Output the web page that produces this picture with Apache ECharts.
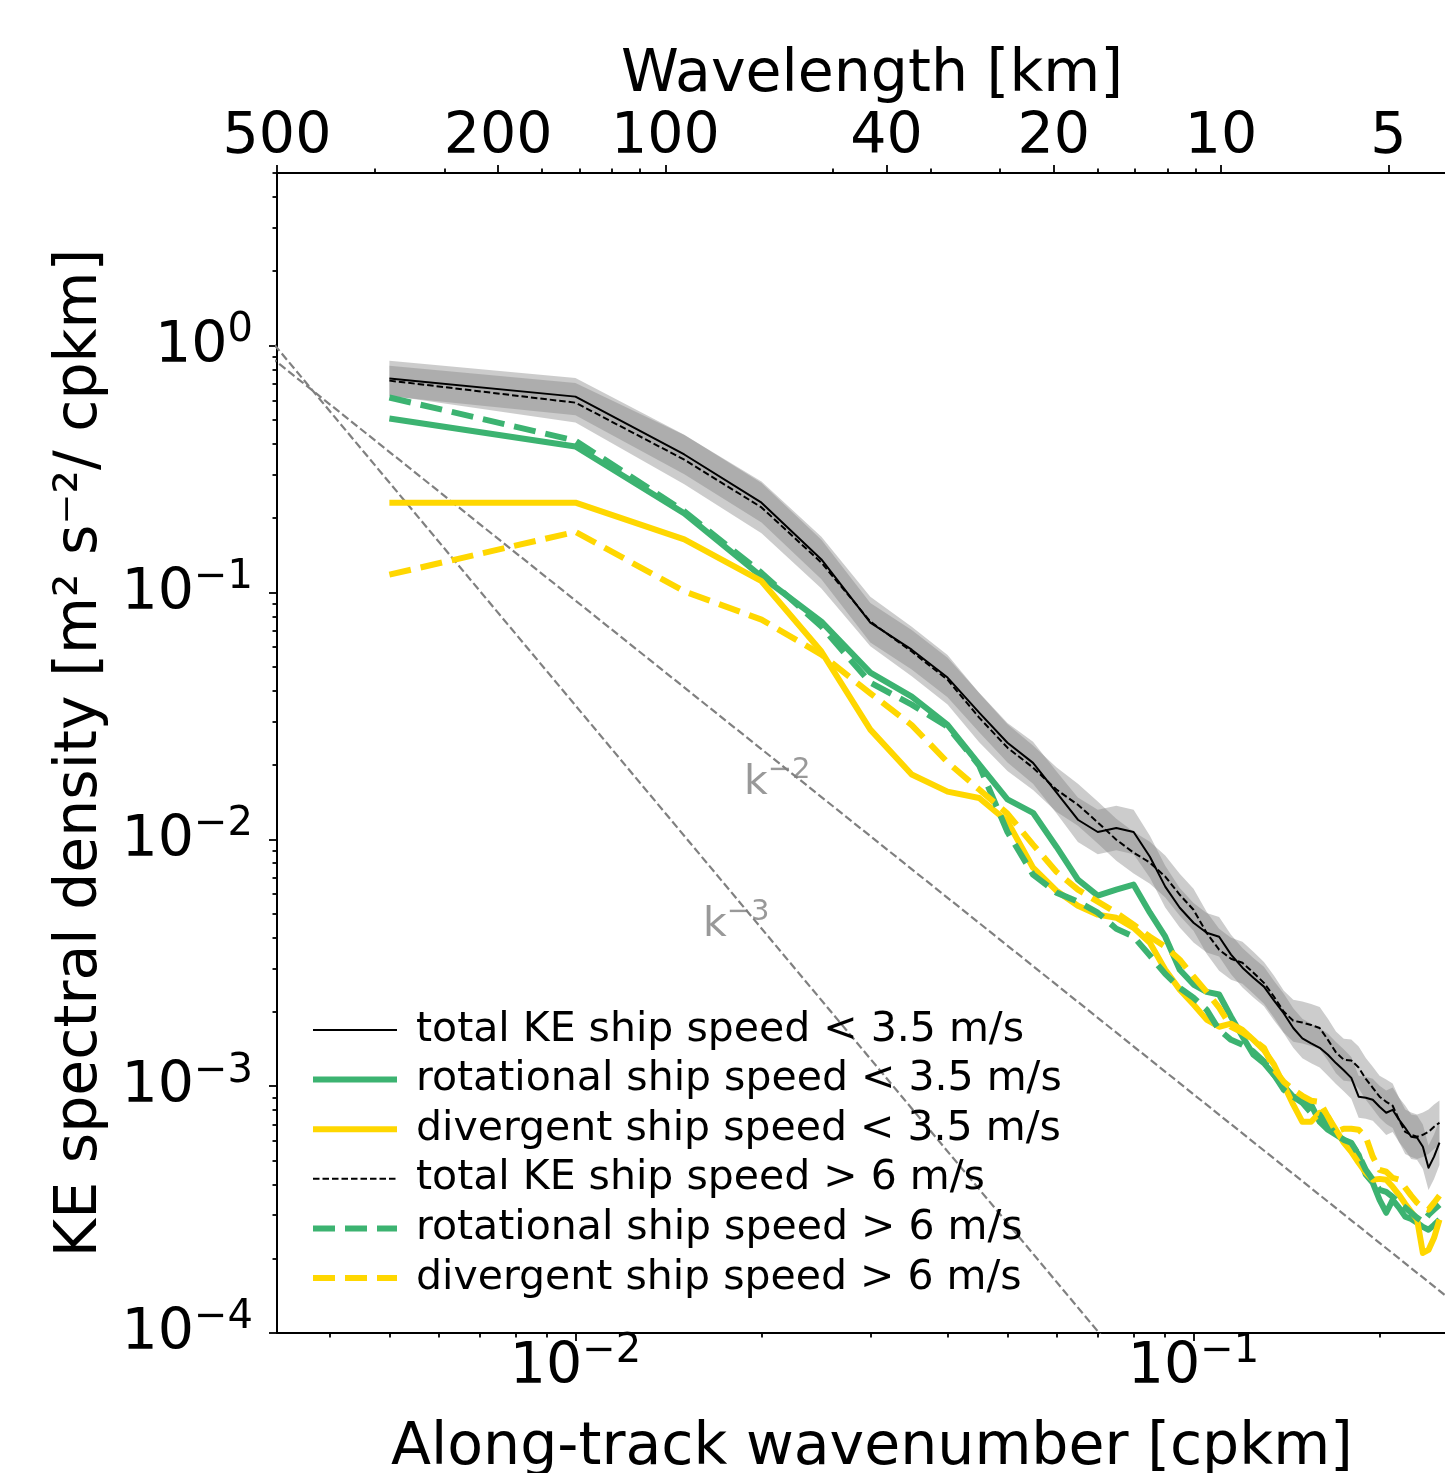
<!DOCTYPE html>
<html lang="en">
<head>
<meta charset="UTF-8">
<title>KE spectra</title>
<script src="https://cdn.jsdelivr.net/npm/echarts@6/dist/echarts.min.js"></script>
<style>
  html, body { margin: 0; padding: 0; background: #fff; }
  #main { width: 1445px; height: 1473px; }
</style>
</head>
<body>
<div id="main"></div>
<script>
// along-track wavenumber [cpkm]
var wavenumber = [0.005, 0.010, 0.015, 0.020, 0.025, 0.030, 0.035, 0.040, 0.045, 0.050,
                  0.055, 0.060, 0.065, 0.070, 0.075, 0.080, 0.085, 0.090, 0.095, 0.100,
                  0.105, 0.110, 0.115, 0.120, 0.125, 0.130, 0.135, 0.140, 0.145, 0.150,
                  0.155, 0.160, 0.165, 0.170, 0.175, 0.180, 0.185, 0.190, 0.195, 0.200,
                  0.205, 0.210, 0.215, 0.220, 0.225, 0.230, 0.235, 0.240, 0.245, 0.250];

// ship speed < 3.5 m/s
var totalSlow = [0.735, 0.621, 0.362, 0.231, 0.136, 0.0754, 0.0586, 0.0452, 0.0326, 0.0246,
                 0.0204, 0.0155, 0.0120, 0.0107, 0.0111, 0.0107, 0.00850, 0.00643, 0.00528, 0.00459,
                 0.00418, 0.00403, 0.00341, 0.00302, 0.00275, 0.00253, 0.00222, 0.00197, 0.00172, 0.00156,
                 0.00149, 0.00143, 0.00134, 0.00124, 0.00116, 0.00108, 0.000906, 0.000897, 0.000881, 0.000825,
                 0.000780, 0.000802, 0.000731, 0.000678, 0.000624, 0.000618, 0.000568, 0.000467, 0.000518, 0.000590];
var rotSlow = [0.506, 0.390, 0.209, 0.116, 0.0762, 0.0473, 0.0378, 0.0291, 0.0201, 0.0145,
               0.0128, 0.00933, 0.00686, 0.00591, 0.00625, 0.00655, 0.00504, 0.00403, 0.00296, 0.00258,
               0.00241, 0.00235, 0.00191, 0.00159, 0.00134, 0.00124, 0.00111, 0.00100, 0.000906, 0.000889,
               0.000841, 0.000717, 0.000666, 0.000635, 0.000606, 0.000584, 0.000527, 0.000438, 0.000406, 0.000346,
               0.000307, 0.000346, 0.000322, 0.000296, 0.000290, 0.000280, 0.000269, 0.000262, 0.000274, 0.000288];
var divSlow = [0.231, 0.231, 0.164, 0.111, 0.0576, 0.0278, 0.0183, 0.0156, 0.0147, 0.0118,
               0.00767, 0.00619, 0.00538, 0.00495, 0.00481, 0.00438, 0.00381, 0.00296, 0.00246, 0.00214,
               0.00186, 0.00174, 0.00179, 0.00169, 0.00154, 0.00140, 0.00122, 0.00101, 0.000841, 0.000717,
               0.000717, 0.000780, 0.000752, 0.000666, 0.000590, 0.000542, 0.000489, 0.000446, 0.000418, 0.000421,
               0.000418, 0.000391, 0.000363, 0.000334, 0.000310, 0.000288, 0.000211, 0.000217, 0.000243, 0.000288];

// ship speed > 6 m/s
var totalFast = [0.721, 0.587, 0.345, 0.221, 0.132, 0.0762, 0.0576, 0.0443, 0.0311, 0.0235,
                 0.0195, 0.0159, 0.0138, 0.0117, 0.00996, 0.00883, 0.00804, 0.00706, 0.00596, 0.00518,
                 0.00418, 0.00357, 0.00328, 0.00316, 0.00288, 0.00262, 0.00230, 0.00200, 0.00184, 0.00181,
                 0.00177, 0.00172, 0.00154, 0.00137, 0.00128, 0.00127, 0.00119, 0.00107, 0.000985, 0.000906,
                 0.000864, 0.000833, 0.000731, 0.000653, 0.000635, 0.000624, 0.000635, 0.000653, 0.000685, 0.000711];
var rotFast = [0.616, 0.412, 0.213, 0.120, 0.0727, 0.0431, 0.0351, 0.0286, 0.0199, 0.0107,
               0.00719, 0.00608, 0.00559, 0.00504, 0.00434, 0.00403, 0.00338, 0.00285, 0.00250, 0.00228,
               0.00204, 0.00169, 0.00154, 0.00147, 0.00138, 0.00126, 0.00111, 0.000967, 0.000906, 0.000856,
               0.000780, 0.000766, 0.000698, 0.000635, 0.000606, 0.000590, 0.000527, 0.000458, 0.000418, 0.000380,
               0.000373, 0.000356, 0.000337, 0.000322, 0.000307, 0.000293, 0.000282, 0.000301, 0.000316, 0.000331];
var divFast = [0.118, 0.176, 0.101, 0.0776, 0.0560, 0.0390, 0.0290, 0.0205, 0.0159, 0.0127,
               0.00951, 0.00739, 0.00625, 0.00559, 0.00504, 0.00451, 0.00403, 0.00367, 0.00325, 0.00278,
               0.00241, 0.00208, 0.00174, 0.00165, 0.00154, 0.00143, 0.00117, 0.00104, 0.000967, 0.000914,
               0.000873, 0.000864, 0.000752, 0.000653, 0.000672, 0.000672, 0.000666, 0.000624, 0.000518, 0.000458,
               0.000450, 0.000425, 0.000418, 0.000388, 0.000360, 0.000337, 0.000322, 0.000316, 0.000337, 0.000360];

// half width of the shaded bands, in decades
var slowHalf = [0.072, 0.075, 0.08, 0.08, 0.08, 0.08, 0.08, 0.08, 0.08, 0.08,
                0.085, 0.085, 0.09, 0.09, 0.09, 0.09, 0.085, 0.085, 0.08, 0.08,
                0.08, 0.08, 0.08, 0.08, 0.08, 0.08, 0.08, 0.08, 0.08, 0.08,
                0.08, 0.08, 0.085, 0.085, 0.085, 0.085, 0.085, 0.085, 0.085, 0.085,
                0.09, 0.09, 0.09, 0.09, 0.09, 0.09, 0.09, 0.09, 0.09, 0.09];
var fastHalf = [0.06, 0.08, 0.10, 0.105, 0.105, 0.10, 0.10, 0.10, 0.10, 0.095,
                0.09, 0.09, 0.085, 0.085, 0.085, 0.085, 0.085, 0.085, 0.085, 0.085,
                0.085, 0.085, 0.085, 0.085, 0.085, 0.085, 0.085, 0.085, 0.085, 0.085,
                0.085, 0.085, 0.085, 0.085, 0.085, 0.085, 0.085, 0.085, 0.085, 0.085,
                0.09, 0.09, 0.09, 0.09, 0.09, 0.09, 0.09, 0.09, 0.09, 0.09];

// reference slopes k^-2 and k^-3
var refK = [0.003, 0.3];
var refSlope2 = [1.03, 1.03e-4];
var refSlope3 = [1.29, 1.29e-6];
var refLabels = [{ k: 0.0212, e: 0.0168, exp: '−2' }, { k: 0.0182, e: 0.00447, exp: '−3' }];

// axis ranges and ticks
var kMin = 1 / 304, kMax = 0.277, kTopMin = 0.002;
var eMin = 1e-4, eMax = 5;
var bottomMajor = [0.01, 0.1];
var bottomMinor = [0.004, 0.005, 0.006, 0.007, 0.008, 0.009, 0.02, 0.03, 0.04, 0.05, 0.06, 0.07, 0.08, 0.09, 0.2];
var topWavelengths = [500, 200, 100, 40, 20, 10, 5];
var topMinor = [0.003, 0.004, 0.006, 0.007, 0.008, 0.009, 0.02, 0.03, 0.04, 0.06, 0.07, 0.08, 0.09];
var yMajor = [1e-4, 1e-3, 1e-2, 1e-1, 1];
var yMinor = [2e-4, 3e-4, 4e-4, 5e-4, 6e-4, 7e-4, 8e-4, 9e-4,
              2e-3, 3e-3, 4e-3, 5e-3, 6e-3, 7e-3, 8e-3, 9e-3,
              2e-2, 3e-2, 4e-2, 5e-2, 6e-2, 7e-2, 8e-2, 9e-2,
              0.2, 0.3, 0.4, 0.5, 0.6, 0.7, 0.8, 0.9, 2, 3, 4, 5];

var GREEN = '#3cb371', GOLD = '#ffd700', FONT = 'DejaVu Sans';
var lg = Math.log10;

function pairs(ys) {
    return ys.map(function (v, i) { return [lg(wavenumber[i]), lg(v)]; });
}
// 10^n as rich text, superscript raised with bottom padding
function pow10(v) {
    var e = Math.round(v);
    return '{b|10}{s|' + (e < 0 ? '−' + (-e) : e) + '}';
}
var powRich = {
    b: { fontSize: 57, lineHeight: 57, color: '#000', fontFamily: 'DejaVu Sans', padding: [3, 0, 0, 0] },
    s: { fontSize: 40, lineHeight: 40, color: '#000', fontFamily: 'DejaVu Sans', padding: [0, 0, 30, 0] }
};

function line(name, ys, color, width, type) {
    return {
        name: name, type: 'line', data: pairs(ys), symbol: 'none', silent: true,
        lineStyle: { color: color, width: width, type: type || 'solid', join: 'round' },
        itemStyle: { color: color }, z: 3
    };
}
// shaded band drawn as one polygon through the axis scales
function band(ys, half) {
    var pts = ys.map(function (v, i) { return [lg(wavenumber[i]), lg(v) - half[i], lg(v) + half[i]]; });
    return {
        type: 'custom', silent: true, z: 1, data: pts,
        encode: { x: 0, y: [1, 2] },
        renderItem: function (params, api) {
            if (params.dataIndex !== 0) return null;
            var upper = pts.map(function (p) { return api.coord([p[0], p[2]]); });
            var lower = pts.map(function (p) { return api.coord([p[0], p[1]]); }).reverse();
            return {
                type: 'polygon', shape: { points: upper.concat(lower) },
                style: { fill: 'rgba(128,128,128,0.4)', stroke: null }
            };
        }
    };
}
function ref(ys) {
    return {
        type: 'line', data: refK.map(function (k, i) { return [lg(k), lg(ys[i])]; }),
        symbol: 'none', silent: true, z: 2,
        lineStyle: { color: '#808080', width: 2.2, type: [8, 3.5] }
    };
}

var axisColor = '#000';
var tickFont = { fontSize: 57, color: '#000', fontFamily: FONT, lineHeight: 57 };
var titleFont = { fontSize: 58.5, color: '#000', fontFamily: FONT, lineHeight: 58 };

var names = ['total KE ship speed < 3.5 m/s', 'rotational ship speed < 3.5 m/s', 'divergent ship speed < 3.5 m/s',
             'total KE ship speed > 6 m/s', 'rotational ship speed > 6 m/s', 'divergent ship speed > 6 m/s'];

var series = [band(totalSlow, slowHalf), band(totalFast, fastHalf), ref(refSlope2), ref(refSlope3), {
        type: 'scatter', silent: true, z: 2, symbolSize: 1, itemStyle: { color: 'rgba(0,0,0,0)' },
        data: refLabels.map(function (d) { return { value: [lg(d.k), lg(d.e)], exp: d.exp }; }),
        label: {
            show: true, position: 'inside',
            formatter: function (p) { return '{k|k}{s|' + p.data.exp + '}'; },
            rich: {
                k: { fontSize: 41, lineHeight: 41, color: '#808080', fontFamily: FONT },
                s: { fontSize: 29, lineHeight: 29, color: '#808080', fontFamily: FONT, padding: [0, 0, 26, 0] }
            }
        }
    },
    line(names[0], totalSlow, '#000', 2),
    line(names[1], rotSlow, GREEN, 6),
    line(names[2], divSlow, GOLD, 6),
    line(names[3], totalFast, '#000', 2, [6.5, 3]),
    line(names[4], rotFast, GREEN, 6, [22, 10]),
    line(names[5], divFast, GOLD, 6, [22, 10])
];

function minorAxis(pos, ticks, extent) {
    return {
        type: 'value', position: pos, min: extent[0], max: extent[1],
        axisLine: { show: false, onZero: false },
        axisTick: { show: true, customValues: ticks.map(lg), length: 4.5, lineStyle: { color: axisColor, width: 1.8 } },
        axisLabel: { show: false }, splitLine: { show: false }
    };
}

var chart = echarts.init(document.getElementById('main'));
chart.setOption({
    animation: false,
    backgroundColor: '#fff',
    textStyle: { fontFamily: FONT },
    grid: { left: 277, top: 173, width: 1190, height: 1160, containLabel: false, outerBoundsMode: 'none' },
    legend: {
        data: names, orient: 'vertical', left: 310, top: 1008, padding: 0,
        itemWidth: 84, itemHeight: 20, itemGap: 5.6, selectedMode: false,
        itemStyle: { opacity: 0 },
        lineStyle: { width: 'inherit' },
        textStyle: { fontSize: 41, color: '#000', fontFamily: FONT, lineHeight: 44, padding: [0, 0, 0, 14] }
    },
    xAxis: [
        {
            type: 'value', position: 'bottom', min: lg(kMin), max: lg(kMax),
            axisLine: { onZero: false, lineStyle: { color: axisColor, width: 2 } },
            axisTick: { customValues: bottomMajor.map(lg), length: 8, lineStyle: { color: axisColor, width: 1.8 } },
            axisLabel: { customValues: bottomMajor.map(lg), formatter: pow10, margin: 5, rich: powRich },
            splitLine: { show: false },
            name: 'Along-track wavenumber [cpkm]', nameLocation: 'middle', nameGap: 87,
            nameTextStyle: titleFont
        },
        minorAxis('bottom', bottomMinor, [lg(kMin), lg(kMax)]),
        {
            type: 'value', position: 'top', min: lg(kTopMin), max: lg(kMax),
            axisLine: { onZero: false, lineStyle: { color: axisColor, width: 2 } },
            axisTick: { customValues: topWavelengths.map(function (w) { return lg(1 / w); }), length: 8,
                        lineStyle: { color: axisColor, width: 1.8 } },
            axisLabel: Object.assign({
                customValues: topWavelengths.map(function (w) { return lg(1 / w); }),
                formatter: function (v) { return String(Math.round(1 / Math.pow(10, v))); }, margin: 6
            }, tickFont),
            splitLine: { show: false },
            name: 'Wavelength [km]', nameLocation: 'middle', nameGap: 50,
            nameTextStyle: titleFont
        },
        minorAxis('top', topMinor, [lg(kTopMin), lg(kMax)])
    ],
    yAxis: [
        {
            type: 'value', position: 'left', min: lg(eMin), max: lg(eMax),
            axisLine: { onZero: false, lineStyle: { color: axisColor, width: 2 } },
            axisTick: { customValues: yMajor.map(lg), length: 8, lineStyle: { color: axisColor, width: 1.8 } },
            axisLabel: { customValues: yMajor.map(lg), formatter: pow10, margin: 24, rich: powRich },
            splitLine: { show: false },
            name: 'KE spectral density [m² s⁻²/ cpkm]', nameLocation: 'middle', nameGap: 166,
            nameTextStyle: titleFont
        },
        minorAxis('left', yMinor, [lg(eMin), lg(eMax)])
    ],
    series: series.map(function (s) { s.xAxisIndex = 0; s.yAxisIndex = 0; return s; })
});
</script>
</body>
</html>
